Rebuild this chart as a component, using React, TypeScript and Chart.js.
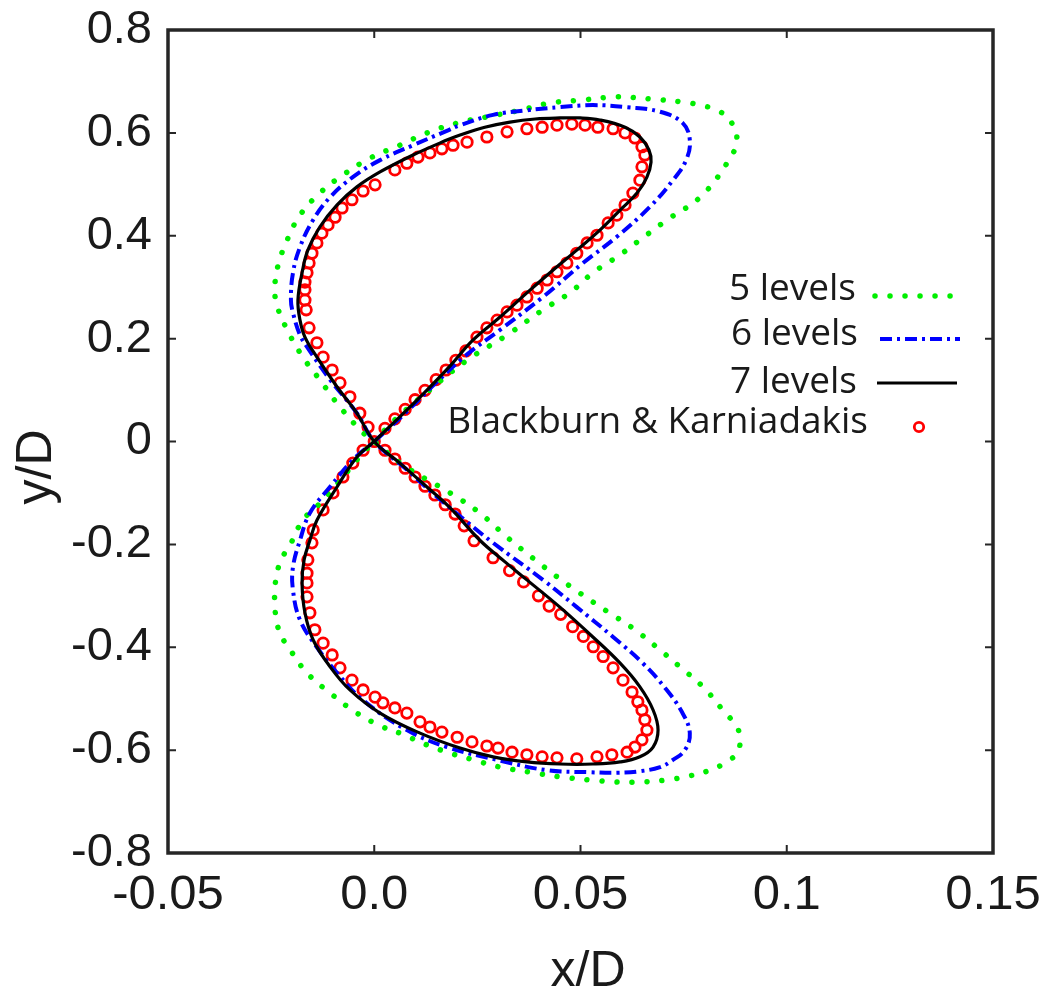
import React, { useEffect, useRef } from 'react';
import { Chart, registerables } from 'chart.js';

Chart.register(...registerables);

// ---------- axis ticks ----------
const xTickValues = [-0.05, 0, 0.05, 0.1, 0.15];
const xTickLabels = ['-0.05', '0.0', '0.05', '0.1', '0.15'];
const yTickValues = [-0.8, -0.6, -0.4, -0.2, 0, 0.2, 0.4, 0.6, 0.8];
const yTickLabels = ['-0.8', '-0.6', '-0.4', '-0.2', '0', '0.2', '0.4', '0.6', '0.8'];
const xTitle = 'x/D';
const yTitle = 'y/D';

// ---------- series names ----------
const seriesNames = ['5 levels', '6 levels', '7 levels', 'Blackburn & Karniadakis'];

// ---------- 5 levels (green dotted) ----------
const level5X = [
  0, 0.0050, 0.0128, 0.0225, 0.0322, 0.0409, 0.0474, 0.0530, 0.0596, 0.0651,
  0.0710, 0.0790, 0.0855, 0.0879, 0.0862, 0.0831, 0.0790, 0.0748, 0.0668, 0.0588,
  0.0506, 0.0426, 0.0353, 0.0273, 0.0201, 0.0128, 0.0062, -0.0010, -0.0076, -0.0132,
  -0.0180, -0.0211, -0.0233, -0.0241, -0.0236, -0.0211, -0.0173, -0.0132, -0.0083, -0.0027,
  0, 0.0070, 0.0184, 0.0256, 0.0322, 0.0385, 0.0443, 0.0499, 0.0564, 0.0627,
  0.0685, 0.0741, 0.0797, 0.0845, 0.0879, 0.0887, 0.0879, 0.0850, 0.0814, 0.0765,
  0.0710, 0.0644, 0.0588, 0.0523, 0.0450, 0.0378, 0.0305, 0.0232, 0.0184, 0.0128,
  0.0062, 0.0021, -0.0042, -0.0107, -0.0163, -0.0204, -0.0224, -0.0236, -0.0241, -0.0241,
  -0.0236, -0.0224, -0.0204, -0.0173, -0.0124, -0.0076, -0.0027, 0,
];
const level5Y = [
  0, 0.042, 0.096, 0.158, 0.207, 0.256, 0.289, 0.328, 0.363, 0.396,
  0.431, 0.475, 0.541, 0.586, 0.625, 0.644, 0.654, 0.660, 0.666, 0.670,
  0.664, 0.658, 0.644, 0.631, 0.619, 0.600, 0.576, 0.551, 0.518, 0.483,
  0.440, 0.392, 0.343, 0.300, 0.265, 0.217, 0.164, 0.120, 0.067, 0.017,
  0, -0.046, -0.100, -0.139, -0.186, -0.227, -0.263, -0.295, -0.330, -0.363,
  -0.400, -0.438, -0.477, -0.522, -0.555, -0.580, -0.606, -0.625, -0.639, -0.650,
  -0.658, -0.662, -0.662, -0.658, -0.652, -0.643, -0.633, -0.617, -0.606, -0.590,
  -0.567, -0.555, -0.528, -0.489, -0.450, -0.405, -0.380, -0.353, -0.318, -0.289,
  -0.256, -0.227, -0.201, -0.153, -0.114, -0.069, -0.022, 0,
];

// ---------- 6 levels (blue dash-dot) ----------
const level6X = [
  0, 0.0075, 0.0147, 0.0220, 0.0305, 0.0409, 0.0506, 0.0588, 0.0668, 0.0724,
  0.0756, 0.0765, 0.0748, 0.0693, 0.0613, 0.0530, 0.0450, 0.0370, 0.0288, 0.0208,
  0.0176, 0.0094, 0.0014, -0.0052, -0.0107, -0.0148, -0.0180, -0.0197, -0.0202, -0.0197,
  -0.0180, -0.0163, -0.0107, -0.0042,
  0, 0.0075, 0.0147, 0.0220, 0.0288, 0.0409, 0.0491, 0.0579, 0.0651, 0.0705,
  0.0746, 0.0765, 0.0753, 0.0724, 0.0693, 0.0644, 0.0588, 0.0523, 0.0419, 0.0298,
  0.0176, 0.0079, -0.0027, -0.0090, -0.0139, -0.0180, -0.0197, -0.0197, -0.0180, -0.0156,
  -0.0107, -0.0052, 0,
];
const level6Y = [
  0, 0.055, 0.112, 0.166, 0.217, 0.281, 0.347, 0.398, 0.456, 0.508,
  0.547, 0.586, 0.619, 0.641, 0.650, 0.654, 0.650, 0.644, 0.635, 0.615,
  0.604, 0.576, 0.547, 0.514, 0.475, 0.431, 0.378, 0.328, 0.275, 0.250,
  0.207, 0.184, 0.120, 0.055,
  0, -0.052, -0.104, -0.153, -0.197, -0.269, -0.322, -0.380, -0.431, -0.479,
  -0.526, -0.567, -0.600, -0.619, -0.633, -0.641, -0.644, -0.643, -0.639, -0.619,
  -0.594, -0.561, -0.503, -0.450, -0.400, -0.347, -0.289, -0.244, -0.192, -0.139,
  -0.088, -0.036, 0,
];

// ---------- 7 levels (black solid) ----------
const level7X = [
  0, 0.0062, 0.0123, 0.0184, 0.0239, 0.0305, 0.0370, 0.0433, 0.0491, 0.0547,
  0.0596, 0.0637, 0.0661, 0.0671, 0.0666, 0.0644, 0.0608, 0.0547, 0.0499, 0.0450,
  0.0390, 0.0329, 0.0268, 0.0208, 0.0176, 0.0094, 0.0014, -0.0042, -0.0090, -0.0132,
  -0.0161, -0.0175, -0.0185, -0.0180, -0.0168, -0.0139, -0.0090, -0.0042,
  0, 0.0062, 0.0123, 0.0184, 0.0256, 0.0317, 0.0370, 0.0450, 0.0530, 0.0596,
  0.0644, 0.0676, 0.0688, 0.0676, 0.0644, 0.0596, 0.0530, 0.0450, 0.0370, 0.0288,
  0.0208, 0.0111, 0.0014, -0.0059, -0.0107, -0.0148, -0.0168, -0.0175, -0.0170, -0.0156,
  -0.0139, -0.0090, -0.0042, 0,
];
const level7Y = [
  0, 0.048, 0.096, 0.147, 0.197, 0.242, 0.289, 0.333, 0.372, 0.411,
  0.450, 0.483, 0.514, 0.543, 0.567, 0.592, 0.611, 0.625, 0.629, 0.629,
  0.627, 0.621, 0.611, 0.596, 0.586, 0.557, 0.524, 0.495, 0.460, 0.417,
  0.372, 0.328, 0.275, 0.236, 0.203, 0.164, 0.106, 0.055,
  0, -0.042, -0.085, -0.129, -0.192, -0.234, -0.269, -0.322, -0.380, -0.431,
  -0.477, -0.522, -0.561, -0.594, -0.613, -0.623, -0.627, -0.627, -0.623, -0.613,
  -0.596, -0.567, -0.528, -0.483, -0.438, -0.386, -0.333, -0.275, -0.230, -0.192,
  -0.153, -0.088, -0.030, 0,
];

// ---------- Blackburn & Karniadakis (red circles) ----------
const refX = [
  0, 0.0026, 0.0050, 0.0075, 0.0099, 0.0123, 0.0150, 0.0174, 0.0198, 0.0222,
  0.0249, 0.0273, 0.0298, 0.0322, 0.0346, 0.0370, 0.0395, 0.0419, 0.0443, 0.0467,
  0.0491, 0.0516, 0.0540, 0.0567, 0.0588, 0.0608, 0.0627, 0.0644, 0.0649, 0.0656,
  0.0649, 0.0632, 0.0608, 0.0579, 0.0542, 0.0511, 0.0479, 0.0443, 0.0407, 0.0370,
  0.0322, 0.0273, 0.0225, 0.0191, 0.0164, 0.0135, 0.0106, 0.0079, 0.0050, 0.0002,
  -0.0027, -0.0054, -0.0078, -0.0095, -0.0112, -0.0127, -0.0139, -0.0151, -0.0158, -0.0163,
  -0.0168, -0.0168, -0.0168, -0.0165, -0.0158, -0.0139, -0.0124, -0.0102, -0.0083, -0.0059,
  -0.0035, -0.0015,
  0.0026, 0.0050, 0.0075, 0.0099, 0.0123, 0.0147, 0.0172, 0.0196, 0.0218, 0.0242,
  0.0288, 0.0328, 0.0362, 0.0398, 0.0424, 0.0452, 0.0481, 0.0507, 0.0531, 0.0555,
  0.0579, 0.0603, 0.0625, 0.0639, 0.0649, 0.0656, 0.0661, 0.0649, 0.0632, 0.0613,
  0.0576, 0.0540, 0.0491, 0.0443, 0.0407, 0.0370, 0.0334, 0.0300, 0.0273, 0.0237,
  0.0201, 0.0164, 0.0135, 0.0111, 0.0079, 0.0050, 0.0021, 0.0002, -0.0027, -0.0054,
  -0.0083, -0.0102, -0.0124, -0.0144, -0.0156, -0.0163, -0.0163, -0.0163, -0.0161, -0.0151,
  -0.0148, -0.0124, -0.0100, -0.0076, -0.0052, -0.0027,
];
const refY = [
  0, 0.0255, 0.0441, 0.0626, 0.0813, 0.0995, 0.1204, 0.139, 0.158, 0.176,
  0.203, 0.221, 0.236, 0.252, 0.265, 0.281, 0.298, 0.314, 0.330, 0.347,
  0.366, 0.386, 0.401, 0.425, 0.440, 0.460, 0.483, 0.508, 0.534, 0.557,
  0.573, 0.590, 0.600, 0.608, 0.611, 0.615, 0.617, 0.615, 0.611, 0.608,
  0.602, 0.592, 0.582, 0.576, 0.569, 0.561, 0.553, 0.541, 0.528, 0.499,
  0.487, 0.470, 0.454, 0.436, 0.421, 0.405, 0.386, 0.366, 0.347, 0.328,
  0.310, 0.295, 0.275, 0.256, 0.221, 0.192, 0.164, 0.139, 0.114, 0.087,
  0.055, 0.028,
  -0.017, -0.034, -0.052, -0.069, -0.087, -0.104, -0.123, -0.141, -0.164, -0.193,
  -0.226, -0.251, -0.273, -0.300, -0.320, -0.336, -0.360, -0.379, -0.399, -0.418,
  -0.440, -0.464, -0.487, -0.506, -0.522, -0.541, -0.561, -0.580, -0.594, -0.604,
  -0.609, -0.613, -0.617, -0.615, -0.613, -0.609, -0.604, -0.596, -0.592, -0.584,
  -0.575, -0.565, -0.555, -0.545, -0.528, -0.518, -0.508, -0.497, -0.483, -0.464,
  -0.440, -0.415, -0.392, -0.366, -0.333, -0.302, -0.275, -0.256, -0.230, -0.197,
  -0.172, -0.133, -0.100, -0.069, -0.042, -0.017,
];

const toPoints = (xs: number[], ys: number[]) => xs.map((x, i) => ({ x, y: ys[i] }));

const TEXT_COLOR = '#1a1a1a';
const AXIS_FONT = '"Liberation Sans", Arial, sans-serif';
const LEGEND_FONT = '"Open Sans", "Noto Sans", sans-serif';

export default function App() {
  const canvasRef = useRef<HTMLCanvasElement | null>(null);

  useEffect(() => {
    const canvas = canvasRef.current;
    if (!canvas) return;

    const framePlugin = {
      id: 'frameTicksLegend',
      afterDraw(chart: any) {
        const ctx = chart.ctx as CanvasRenderingContext2D;
        const { left, right, top, bottom } = chart.chartArea;
        const xs = chart.scales.x;
        const ys = chart.scales.y;
        ctx.save();
        // frame
        ctx.strokeStyle = '#262626';
        ctx.lineWidth = 3.5;
        ctx.setLineDash([]);
        ctx.strokeRect(left, top, right - left, bottom - top);
        // inward ticks on all four sides
        ctx.lineWidth = 2;
        const tl = 8;
        xTickValues.slice(1, -1).forEach((v) => {
          const px = xs.getPixelForValue(v);
          ctx.beginPath();
          ctx.moveTo(px, bottom);
          ctx.lineTo(px, bottom - tl);
          ctx.moveTo(px, top);
          ctx.lineTo(px, top + tl);
          ctx.stroke();
        });
        yTickValues.slice(1, -1).forEach((v) => {
          const py = ys.getPixelForValue(v);
          ctx.beginPath();
          ctx.moveTo(left, py);
          ctx.lineTo(left + tl, py);
          ctx.moveTo(right, py);
          ctx.lineTo(right - tl, py);
          ctx.stroke();
        });

        // axis titles
        ctx.fillStyle = TEXT_COLOR;
        ctx.font = `50px ${AXIS_FONT}`;
        ctx.textAlign = 'center';
        ctx.textBaseline = 'alphabetic';
        ctx.fillText(xTitle, 580, 978);
        ctx.save();
        ctx.translate(43, 459);
        ctx.rotate(-Math.PI / 2);
        ctx.fillText(yTitle, 0, 0);
        ctx.restore();

        // legend
        const items = [
          { textRight: 848, baseline: 292, lineY: 288, x0: 867, x1: 949 },
          { textRight: 850, baseline: 337, lineY: 331, x0: 872, x1: 952 },
          { textRight: 849, baseline: 385, lineY: 375, x0: 869, x1: 949 },
          { textRight: 860, baseline: 425, lineY: 419, x0: 911, x1: 911 },
        ];
        ctx.font = `37px ${LEGEND_FONT}`;
        ctx.textAlign = 'right';
        items.forEach((it, i) => {
          const ds = chart.data.datasets[i];
          ctx.fillStyle = TEXT_COLOR;
          ctx.fillText(seriesNames[i], it.textRight, it.baseline);
          if (i < 3) {
            ctx.beginPath();
            ctx.strokeStyle = ds.borderColor;
            ctx.lineWidth = ds.borderWidth;
            ctx.lineCap = ds.borderCapStyle || 'butt';
            ctx.setLineDash(ds.borderDash || []);
            ctx.moveTo(it.x0, it.lineY);
            ctx.lineTo(it.x1, it.lineY);
            ctx.stroke();
            ctx.setLineDash([]);
            ctx.lineCap = 'butt';
          } else {
            ctx.beginPath();
            ctx.strokeStyle = ds.pointBorderColor;
            ctx.lineWidth = ds.pointBorderWidth;
            ctx.arc(it.x0, it.lineY, ds.pointRadius - 0.5, 0, Math.PI * 2);
            ctx.stroke();
          }
        });
        ctx.restore();
      },
    };

    const chart = new Chart(canvas, {
      type: 'scatter',
      data: {
        datasets: [
          {
            label: seriesNames[0],
            data: toPoints(level5X, level5Y),
            showLine: true,
            borderColor: '#00ee00',
            borderWidth: 5.5,
            borderDash: [0.01, 15],
            borderCapStyle: 'round',
            tension: 0.4,
            pointRadius: 0,
            fill: false,
            order: 2,
          },
          {
            label: seriesNames[1],
            data: toPoints(level6X, level6Y),
            showLine: true,
            borderColor: '#0000ff',
            borderWidth: 4,
            borderDash: [12, 5, 3, 5],
            borderCapStyle: 'butt',
            tension: 0.4,
            pointRadius: 0,
            fill: false,
            order: 1,
          },
          {
            label: seriesNames[2],
            data: toPoints(level7X, level7Y),
            showLine: true,
            borderColor: '#000000',
            borderWidth: 3.2,
            borderDash: [],
            tension: 0.4,
            pointRadius: 0,
            fill: false,
            order: 0,
          },
          {
            label: seriesNames[3],
            data: toPoints(refX, refY),
            showLine: false,
            pointStyle: 'circle',
            pointRadius: 5.2,
            pointBorderWidth: 2.8,
            pointBorderColor: '#ff0000',
            pointBackgroundColor: 'rgba(255,255,255,0)',
            order: 3,
          },
        ],
      } as any,
      options: {
        animation: false,
        responsive: false,
        devicePixelRatio: 1,
        layout: { padding: { left: 0, right: 49, top: 22, bottom: 0 } },
        plugins: {
          legend: { display: false },
          tooltip: { enabled: false },
          title: { display: false },
        },
        scales: {
          x: {
            type: 'linear',
            position: 'bottom',
            min: -0.05,
            max: 0.15,
            afterBuildTicks: (s: any) => {
              s.ticks = xTickValues.map((v) => ({ value: v }));
            },
            afterFit: (s: any) => {
              s.height = 143;
              s.paddingLeft = 0;
              s.paddingRight = 0;
            },
            grid: { display: false, drawTicks: false },
            border: { display: false },
            ticks: {
              padding: 13,
              color: TEXT_COLOR,
              font: { family: AXIS_FONT, size: 49, lineHeight: 1.2 },
              maxRotation: 0,
              autoSkip: false,
              callback: (_v: any, i: number) => xTickLabels[i],
            },
          },
          y: {
            type: 'linear',
            position: 'left',
            min: -0.8,
            max: 0.8,
            afterBuildTicks: (s: any) => {
              s.ticks = yTickValues.map((v) => ({ value: v }));
            },
            afterFit: (s: any) => {
              s.width = 160;
              s.paddingTop = 0;
              s.paddingBottom = 0;
            },
            grid: { display: false, drawTicks: false },
            border: { display: false },
            ticks: {
              padding: 16,
              color: TEXT_COLOR,
              font: { family: AXIS_FONT, size: 47, lineHeight: 1.2 },
              autoSkip: false,
              callback: (_v: any, i: number) => yTickLabels[i],
            },
          },
        },
      } as any,
      plugins: [framePlugin],
    });

    return () => {
      chart.destroy();
    };
  }, []);

  return (
    <div style={{ width: 1034, height: 988, position: 'relative', background: '#ffffff' }}>
      <canvas ref={canvasRef} width={1034} height={988} style={{ display: 'block' }} />
    </div>
  );
}
